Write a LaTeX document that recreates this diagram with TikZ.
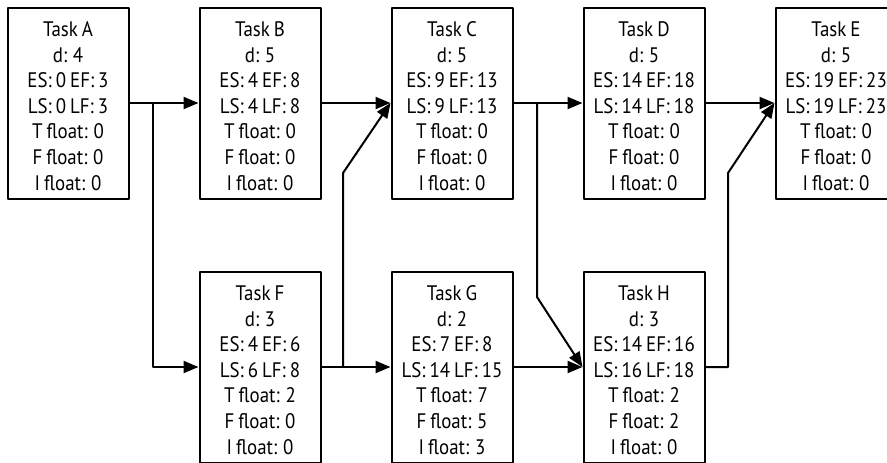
\documentclass[tikz,border=0pt]{standalone}
\usepackage{fontspec}
\setmainfont[FakeStretch=0.9, WordSpace=0.8]{PT Sans}
\usetikzlibrary{arrows.meta}

\begin{document}
\begin{tikzpicture}[x=1pt, y=-1pt, line join=round,
  task/.style={draw, line width=2pt, minimum width=121pt, minimum height=191pt,
    align=center, inner sep=0pt, font=\fontsize{21}{25.6}\selectfont,
    text height=174pt, text depth=0pt},
  flow/.style={line width=2pt, -{Triangle[length=15pt,width=12pt]}}]
\clip (0,0) rectangle (887,463);
% top row
\node[task] (A) at (68,103) {Task A\\ d: 4\\ ES: 0 EF: 3\\ LS: 0 LF: 3\\ T float: 0\\ F float: 0\\ I float: 0};
\node[task] (B) at (260,103) {Task B\\ d: 5\\ ES: 4 EF: 8\\ LS: 4 LF: 8\\ T float: 0\\ F float: 0\\ I float: 0};
\node[task] (C) at (452,103) {Task C\\ d: 5\\ ES: 9 EF: 13\\ LS: 9 LF: 13\\ T float: 0\\ F float: 0\\ I float: 0};
\node[task] (D) at (644,103) {Task D\\ d: 5\\ ES: 14 EF: 18\\ LS: 14 LF: 18\\ T float: 0\\ F float: 0\\ I float: 0};
\node[task] (E) at (836,103) {Task E\\ d: 5\\ ES: 19 EF: 23\\ LS: 19 LF: 23\\ T float: 0\\ F float: 0\\ I float: 0};
% bottom row
\node[task] (F) at (260,367) {Task F\\ d: 3\\ ES: 4 EF: 6\\ LS: 6 LF: 8\\ T float: 2\\ F float: 0\\ I float: 0};
\node[task] (G) at (452,367) {Task G\\ d: 2\\ ES: 7 EF: 8\\ LS: 14 LF: 15\\ T float: 7\\ F float: 5\\ I float: 3};
\node[task] (H) at (644,367) {Task H\\ d: 3\\ ES: 14 EF: 16\\ LS: 16 LF: 18\\ T float: 2\\ F float: 2\\ I float: 0};
% branch points
\coordinate (splitA) at (153,103);
\coordinate (splitF) at (343,367);
\coordinate (bendF) at (343,173);
\coordinate (splitC) at (537,103);
\coordinate (bendC) at (537,297);
\coordinate (outH) at (728,367);
\coordinate (bendH) at (728,173);
% connectors
\draw[flow] (A.east) -- (B.west);
\draw[flow] (splitA) |- (F.west);
\draw[flow] (B.east) -- (C.west);
\draw[flow] (C.east) -- (D.west);
\draw[flow] (D.east) -- (E.west);
\draw[flow] (F.east) -- (G.west);
\draw[flow] (splitF) -- (bendF) -- (C.west);
\draw[flow] (G.east) -- (H.west);
\draw[flow] (splitC) -- (bendC) -- (H.west);
\draw[flow] (H.east) -- (outH) -- (bendH) -- (E.west);
\end{tikzpicture}
\end{document}
